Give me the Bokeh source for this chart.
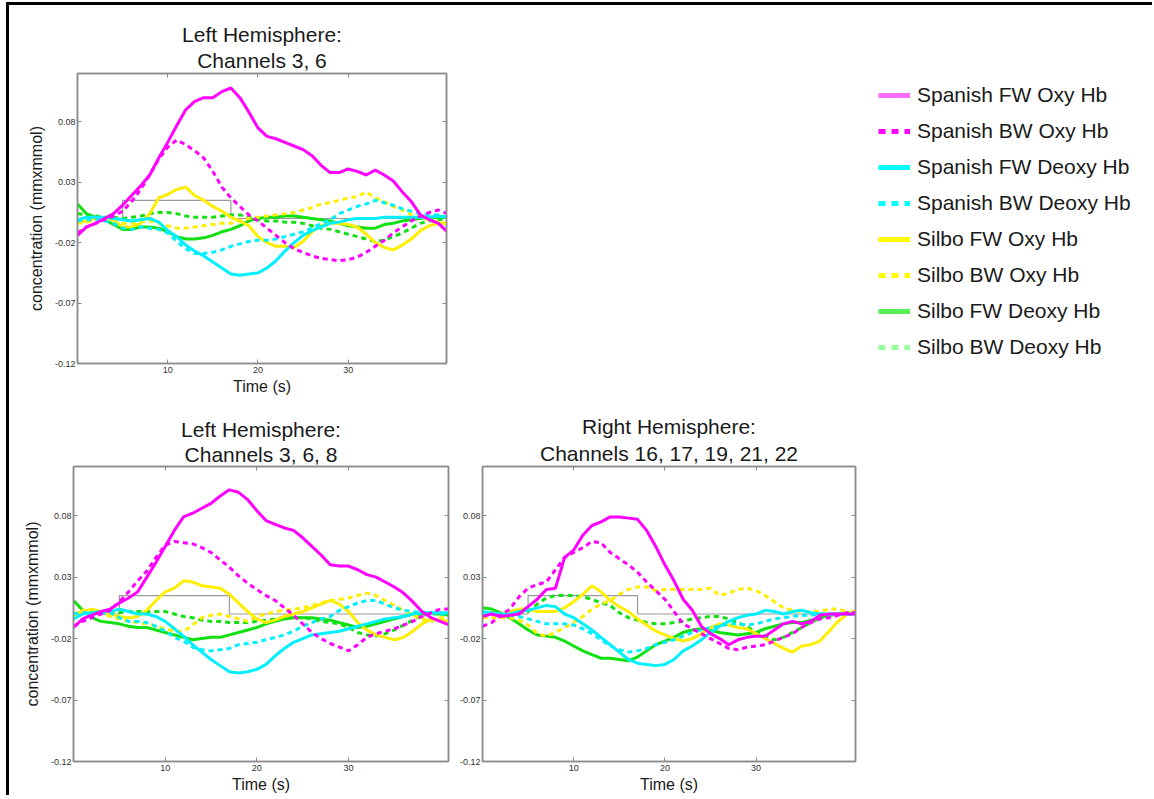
from bokeh.plotting import figure
from bokeh.layouts import row, column
from bokeh.models import (FixedTicker, LinearAxis, Range1d, Title, Legend,
                          LegendItem, PrintfTickFormatter, CustomJSTickFormatter)
from bokeh.embed import file_html
from bokeh.resources import INLINE

# ---------------- data ----------------
time_s = list(range(42))
stim_t = [0, 5, 5, 17, 17, 41]
stim_y = [0, 0, 0.015, 0.015, 0, 0]
x_ticks = [10, 20, 30]
y_ticks = [-0.12, -0.07, -0.02, 0.03, 0.08]

series_labels = ["Spanish FW Oxy Hb", "Spanish BW Oxy Hb", "Spanish FW Deoxy Hb",
                 "Spanish BW Deoxy Hb", "Silbo FW Oxy Hb", "Silbo BW Oxy Hb",
                 "Silbo FW Deoxy Hb", "Silbo BW Deoxy Hb"]

panel_titles = [("Left Hemisphere:", "Channels 3, 6"),
                ("Left Hemisphere:", "Channels 3, 6, 8"),
                ("Right Hemisphere:", "Channels 16, 17, 19, 21, 22")]

# Panel 1: Left Hemisphere, channels 3, 6
p1_sp_fw_oxy = [-0.014, -0.007, -0.004, 0.000, 0.004, 0.011, 0.019, 0.027, 0.036, 0.050, 0.063, 0.077, 0.090, 0.097, 0.100, 0.100, 0.105, 0.108, 0.100, 0.088, 0.075, 0.068, 0.066, 0.063, 0.060, 0.057, 0.052, 0.044, 0.038, 0.038, 0.041, 0.039, 0.036, 0.040, 0.036, 0.031, 0.022, 0.014, 0.003, -0.001, -0.004, -0.011]
p1_sp_bw_oxy = [-0.012, -0.007, -0.004, -0.001, 0.002, 0.006, 0.014, 0.024, 0.036, 0.049, 0.059, 0.065, 0.061, 0.056, 0.050, 0.039, 0.026, 0.017, 0.010, 0.003, -0.002, -0.008, -0.014, -0.020, -0.025, -0.028, -0.031, -0.033, -0.034, -0.035, -0.034, -0.032, -0.028, -0.023, -0.018, -0.012, -0.007, -0.002, 0.002, 0.005, 0.007, 0.004]
p1_sp_fw_deoxy = [-0.001, 0.001, 0.001, 0.001, 0.000, -0.001, -0.002, -0.001, 0.000, -0.003, -0.010, -0.015, -0.022, -0.027, -0.031, -0.036, -0.041, -0.046, -0.047, -0.046, -0.045, -0.041, -0.035, -0.027, -0.020, -0.014, -0.010, -0.007, -0.004, -0.003, -0.001, 0.000, 0.000, 0.000, 0.001, 0.001, 0.001, 0.001, 0.001, 0.001, 0.002, 0.001]
p1_sp_bw_deoxy = [-0.002, -0.001, -0.001, -0.002, -0.004, -0.008, -0.009, -0.007, -0.008, -0.009, -0.012, -0.019, -0.025, -0.029, -0.029, -0.028, -0.026, -0.023, -0.021, -0.019, -0.018, -0.018, -0.017, -0.015, -0.013, -0.011, -0.008, -0.004, -0.001, 0.004, 0.007, 0.010, 0.012, 0.015, 0.013, 0.011, 0.008, 0.006, 0.004, 0.003, 0.003, 0.001]
p1_si_fw_oxy = [-0.003, -0.002, 0.000, 0.000, -0.001, -0.007, -0.007, -0.004, 0.004, 0.017, 0.020, 0.024, 0.026, 0.019, 0.015, 0.010, 0.006, 0.001, -0.002, -0.006, -0.015, -0.020, -0.023, -0.023, -0.024, -0.019, -0.011, -0.006, -0.004, -0.004, -0.005, -0.007, -0.013, -0.020, -0.024, -0.026, -0.022, -0.017, -0.010, -0.006, -0.004, -0.004]
p1_si_bw_oxy = [-0.004, -0.003, -0.002, -0.001, -0.003, -0.004, -0.004, -0.003, -0.002, -0.004, -0.006, -0.008, -0.008, -0.007, -0.006, -0.005, -0.004, -0.004, -0.002, 0.000, 0.001, 0.002, 0.003, 0.004, 0.005, 0.007, 0.009, 0.012, 0.013, 0.015, 0.017, 0.018, 0.022, 0.017, 0.014, 0.010, 0.007, 0.003, 0.001, -0.001, -0.003, -0.004]
p1_si_fw_deoxy = [0.012, 0.004, 0.001, -0.001, -0.005, -0.009, -0.009, -0.007, -0.007, -0.008, -0.011, -0.015, -0.017, -0.017, -0.016, -0.014, -0.011, -0.009, -0.006, -0.002, 0.000, 0.001, 0.001, 0.002, 0.002, 0.001, 0.000, -0.001, -0.002, -0.004, -0.006, -0.007, -0.008, -0.008, -0.005, -0.004, -0.002, -0.001, 0.000, 0.001, 0.001, 0.001]
p1_si_bw_deoxy = [0.004, 0.003, 0.002, 0.001, 0.001, 0.000, 0.001, 0.002, 0.004, 0.005, 0.005, 0.004, 0.002, 0.001, 0.001, 0.001, 0.002, 0.003, 0.003, 0.001, -0.001, -0.002, -0.002, -0.003, -0.003, -0.004, -0.006, -0.008, -0.009, -0.011, -0.013, -0.015, -0.017, -0.019, -0.018, -0.015, -0.012, -0.008, -0.004, -0.002, -0.001, 0.000]

# Panel 2: Left Hemisphere, channels 3, 6, 8
p2_sp_fw_oxy = [-0.011, -0.004, -0.001, 0.002, 0.004, 0.009, 0.013, 0.018, 0.030, 0.042, 0.055, 0.068, 0.079, 0.082, 0.086, 0.090, 0.096, 0.101, 0.099, 0.093, 0.084, 0.076, 0.073, 0.070, 0.068, 0.062, 0.055, 0.048, 0.040, 0.039, 0.039, 0.036, 0.032, 0.030, 0.026, 0.022, 0.017, 0.010, 0.002, -0.003, -0.006, -0.009]
p2_sp_bw_oxy = [-0.010, -0.006, -0.003, 0.000, 0.003, 0.010, 0.018, 0.027, 0.035, 0.046, 0.056, 0.059, 0.058, 0.057, 0.054, 0.050, 0.044, 0.038, 0.031, 0.025, 0.020, 0.015, 0.011, 0.005, -0.001, -0.008, -0.015, -0.020, -0.024, -0.027, -0.030, -0.025, -0.019, -0.016, -0.014, -0.012, -0.009, -0.006, -0.002, 0.001, 0.004, 0.004]
p2_sp_fw_deoxy = [-0.004, 0.000, 0.001, 0.002, 0.002, 0.004, 0.002, 0.000, 0.000, -0.002, -0.006, -0.012, -0.018, -0.025, -0.031, -0.037, -0.042, -0.047, -0.048, -0.047, -0.045, -0.041, -0.034, -0.028, -0.023, -0.020, -0.017, -0.016, -0.015, -0.014, -0.012, -0.010, -0.008, -0.006, -0.004, -0.003, -0.002, 0.000, 0.001, 0.001, 0.001, 0.001]
p2_sp_bw_deoxy = [0.000, 0.001, 0.001, 0.001, 0.001, -0.003, -0.006, -0.006, -0.007, -0.010, -0.014, -0.019, -0.022, -0.027, -0.029, -0.030, -0.029, -0.028, -0.025, -0.024, -0.023, -0.021, -0.019, -0.017, -0.014, -0.010, -0.007, -0.004, -0.002, 0.003, 0.006, 0.009, 0.011, 0.011, 0.008, 0.005, 0.003, 0.002, 0.001, 0.001, 0.000, 0.000]
p2_si_fw_oxy = [0.000, 0.002, 0.004, 0.002, 0.000, -0.002, -0.003, -0.002, 0.003, 0.011, 0.018, 0.021, 0.027, 0.026, 0.023, 0.022, 0.021, 0.016, 0.009, 0.002, -0.004, -0.007, -0.005, -0.002, 0.000, 0.002, 0.005, 0.008, 0.011, 0.008, 0.002, -0.007, -0.013, -0.017, -0.019, -0.021, -0.019, -0.014, -0.008, -0.004, -0.005, -0.006]
p2_si_bw_oxy = [-0.002, 0.003, 0.003, 0.001, -0.002, -0.004, -0.006, -0.007, -0.008, -0.010, -0.012, -0.014, -0.014, -0.009, -0.003, -0.001, 0.000, -0.002, -0.004, -0.006, -0.002, 0.000, 0.002, 0.003, 0.004, 0.005, 0.007, 0.009, 0.011, 0.012, 0.013, 0.015, 0.017, 0.015, 0.011, 0.007, 0.003, -0.001, -0.004, -0.006, -0.003, -0.002]
p2_si_fw_deoxy = [0.011, 0.003, -0.003, -0.006, -0.007, -0.008, -0.010, -0.011, -0.011, -0.013, -0.015, -0.017, -0.019, -0.021, -0.020, -0.019, -0.019, -0.017, -0.015, -0.013, -0.011, -0.008, -0.006, -0.004, -0.003, -0.003, -0.003, -0.004, -0.005, -0.007, -0.009, -0.011, -0.010, -0.008, -0.006, -0.004, -0.002, 0.000, 0.000, 0.001, 0.000, -0.001]
p2_si_bw_deoxy = [0.000, 0.001, 0.001, 0.001, 0.001, 0.001, 0.002, 0.002, 0.002, 0.002, 0.002, 0.000, -0.002, -0.003, -0.005, -0.006, -0.006, -0.007, -0.007, -0.007, -0.006, -0.005, -0.004, -0.003, -0.003, -0.003, -0.004, -0.006, -0.007, -0.008, -0.011, -0.015, -0.017, -0.018, -0.016, -0.013, -0.009, -0.005, -0.001, 0.000, 0.000, 0.000]

# Panel 3: Right Hemisphere, channels 16, 17, 19, 21, 22
p3_sp_fw_oxy = [-0.002, 0.000, -0.002, -0.001, 0.000, 0.006, 0.012, 0.020, 0.021, 0.046, 0.052, 0.064, 0.072, 0.075, 0.079, 0.079, 0.078, 0.077, 0.068, 0.055, 0.040, 0.027, 0.012, 0.003, -0.010, -0.016, -0.020, -0.025, -0.021, -0.019, -0.018, -0.018, -0.013, -0.008, -0.006, -0.008, -0.006, -0.001, 0.000, 0.000, 0.000, 0.000]
p3_sp_bw_oxy = [-0.010, -0.007, -0.001, 0.004, 0.014, 0.021, 0.024, 0.026, 0.036, 0.046, 0.050, 0.054, 0.059, 0.058, 0.050, 0.045, 0.040, 0.034, 0.026, 0.019, 0.012, 0.002, -0.008, -0.012, -0.016, -0.020, -0.024, -0.028, -0.029, -0.027, -0.026, -0.025, -0.022, -0.019, -0.016, -0.011, -0.007, -0.004, -0.003, -0.001, 0.001, 0.001]
p3_sp_fw_deoxy = [0.002, 0.001, 0.000, 0.000, 0.002, 0.003, 0.005, 0.007, 0.006, 0.000, -0.003, -0.008, -0.013, -0.019, -0.025, -0.031, -0.037, -0.040, -0.041, -0.042, -0.041, -0.037, -0.030, -0.026, -0.021, -0.015, -0.010, -0.006, -0.003, -0.001, 0.000, 0.003, 0.002, 0.000, 0.002, 0.003, 0.001, 0.000, 0.000, 0.000, 0.000, 0.000]
p3_sp_bw_deoxy = [0.001, 0.000, 0.000, -0.001, -0.002, -0.004, -0.006, -0.008, -0.008, -0.008, -0.009, -0.012, -0.016, -0.021, -0.026, -0.029, -0.031, -0.030, -0.028, -0.025, -0.023, -0.021, -0.018, -0.015, -0.013, -0.011, -0.010, -0.008, -0.008, -0.009, -0.008, -0.006, -0.004, -0.003, -0.002, -0.001, -0.001, 0.000, 0.000, 0.000, 0.000, 0.000]
p3_si_fw_oxy = [0.001, 0.001, 0.000, 0.002, 0.004, 0.004, 0.002, 0.002, 0.002, 0.005, 0.010, 0.016, 0.023, 0.018, 0.011, 0.006, 0.002, -0.004, -0.009, -0.014, -0.017, -0.020, -0.022, -0.020, -0.016, -0.011, -0.008, -0.009, -0.011, -0.012, -0.016, -0.020, -0.024, -0.028, -0.031, -0.026, -0.025, -0.022, -0.014, -0.006, 0.000, 0.003]
p3_si_bw_oxy = [-0.003, -0.003, -0.003, -0.003, -0.005, -0.009, -0.016, -0.018, -0.015, -0.011, -0.007, -0.002, 0.004, 0.008, 0.011, 0.016, 0.020, 0.022, 0.022, 0.019, 0.020, 0.020, 0.020, 0.020, 0.020, 0.021, 0.015, 0.017, 0.020, 0.021, 0.019, 0.015, 0.010, 0.005, 0.003, 0.002, 0.002, 0.002, 0.004, 0.004, 0.002, 0.000]
p3_si_fw_deoxy = [0.005, 0.004, 0.001, -0.003, -0.008, -0.013, -0.017, -0.018, -0.019, -0.022, -0.026, -0.030, -0.033, -0.036, -0.036, -0.037, -0.038, -0.035, -0.030, -0.025, -0.022, -0.019, -0.015, -0.013, -0.012, -0.013, -0.015, -0.016, -0.017, -0.016, -0.015, -0.012, -0.010, -0.008, -0.007, -0.007, -0.005, -0.003, -0.001, 0.000, 0.001, 0.001]
p3_si_bw_deoxy = [0.000, 0.000, 0.000, 0.000, 0.001, 0.002, 0.008, 0.013, 0.015, 0.015, 0.015, 0.014, 0.012, 0.009, 0.007, 0.001, -0.003, -0.005, -0.007, -0.008, -0.008, -0.007, -0.006, -0.004, -0.003, -0.002, -0.002, -0.004, -0.007, -0.010, -0.015, -0.018, -0.021, -0.019, -0.015, -0.011, -0.007, -0.003, -0.001, 0.000, 0.000, 0.000]

panel_data = [
    [p1_sp_fw_oxy, p1_sp_bw_oxy, p1_sp_fw_deoxy, p1_sp_bw_deoxy,
     p1_si_fw_oxy, p1_si_bw_oxy, p1_si_fw_deoxy, p1_si_bw_deoxy],
    [p2_sp_fw_oxy, p2_sp_bw_oxy, p2_sp_fw_deoxy, p2_sp_bw_deoxy,
     p2_si_fw_oxy, p2_si_bw_oxy, p2_si_fw_deoxy, p2_si_bw_deoxy],
    [p3_sp_fw_oxy, p3_sp_bw_oxy, p3_sp_fw_deoxy, p3_sp_bw_deoxy,
     p3_si_fw_oxy, p3_si_bw_oxy, p3_si_fw_deoxy, p3_si_bw_deoxy],
]

# ---------------- styles ----------------
line_colors = ["#ff00ff", "#ff00ff", "#00f0ff", "#00f0ff",
               "#ffee00", "#ffee00", "#11e011", "#11e011"]
legend_colors = ["#ff6cff", "#ff00ff", "#00ffff", "#00ffff",
                 "#ffff00", "#ffff00", "#55ee55", "#99ff99"]
dashes = ["solid", "5 4", "solid", "5 4", "solid", "5 4", "solid", "5 4"]
draw_order = [7, 6, 5, 4, 3, 2, 1, 0]

FONT = "Liberation Sans"
AXC = "#8c8c8c"
TXT = "#1a1a1a"
blank = CustomJSTickFormatter(code="return ''")


def make_panel(idx, fw, fh, bl, br, bt, bb, ylabel, sub_standoff):
    p = figure(frame_width=fw, frame_height=fh,
               min_border_left=bl, min_border_right=br,
               min_border_top=bt, min_border_bottom=bb,
               x_range=Range1d(0, 40.9), y_range=Range1d(-0.12, 0.12),
               toolbar_location=None, output_backend="svg", title=None,
               background_fill_color="white", border_fill_color="white")
    p.xgrid.visible = False
    p.ygrid.visible = False
    p.outline_line_color = AXC
    p.outline_line_width = 1.5

    for ax in (p.xaxis[0], p.yaxis[0]):
        ax.axis_line_color = AXC
        ax.axis_line_width = 1.5
        ax.major_tick_line_color = AXC
        ax.major_tick_in = 4
        ax.major_tick_out = 0
        ax.minor_tick_line_color = None
        ax.major_label_text_font = FONT
        ax.major_label_text_font_size = "9px"
        ax.major_label_text_color = "#333333"
        ax.axis_label_text_font = FONT
        ax.axis_label_text_font_style = "normal"
        ax.axis_label_text_color = TXT
    p.xaxis.ticker = FixedTicker(ticks=x_ticks)
    p.yaxis.ticker = FixedTicker(ticks=y_ticks)
    p.yaxis.formatter = PrintfTickFormatter(format="%.2f")
    p.xaxis.major_label_standoff = 3
    p.yaxis.major_label_standoff = 2
    p.xaxis.axis_label = "Time (s)"
    p.xaxis.axis_label_text_font_size = "16px"
    p.xaxis.axis_label_standoff = 2
    if ylabel:
        p.yaxis.axis_label = "concentration (mmxmmol)"
        p.yaxis.axis_label_text_font_size = "16px"
        p.yaxis.axis_label_standoff = 7

    # mirrored ticks on top and right (no labels)
    top = LinearAxis(ticker=FixedTicker(ticks=x_ticks), formatter=blank,
                     axis_line_color=AXC, axis_line_width=1.5,
                     major_tick_line_color=AXC, major_tick_in=4, major_tick_out=0,
                     minor_tick_line_color=None, major_label_standoff=0)
    right = LinearAxis(ticker=FixedTicker(ticks=y_ticks), formatter=blank,
                       axis_line_color=AXC, axis_line_width=1.5,
                       major_tick_line_color=AXC, major_tick_in=4, major_tick_out=0,
                       minor_tick_line_color=None, major_label_standoff=0)
    p.add_layout(top, "above")
    p.add_layout(right, "right")

    l1, l2 = panel_titles[idx]
    p.add_layout(Title(text=l2, align="center", text_font=FONT, text_font_size="21px",
                       text_font_style="normal", text_color=TXT, standoff=sub_standoff), "above")
    p.add_layout(Title(text=l1, align="center", text_font=FONT, text_font_size="21px",
                       text_font_style="normal", text_color=TXT, standoff=0), "above")

    p.line(stim_t, stim_y, line_color="#9a9a9a", line_width=1.2)
    series = panel_data[idx]
    for k in draw_order:
        p.line(time_s, series[k], line_color=line_colors[k], line_width=3,
               line_dash=dashes[k])
    return p


p1 = make_panel(0, 369, 290, 68, 10, 68, 37, True, 3)
p2 = make_panel(1, 375, 295, 64, 8, 66, 34, True, 1)
p3 = make_panel(2, 373, 295, 26, 10, 66, 34, False, 4)

# legend panel (frame aligned with p1's frame)
leg = figure(width=696, height=395, x_axis_type=None, y_axis_type=None,
             x_range=Range1d(0, 1), y_range=Range1d(0, 1),
             min_border_left=412, min_border_top=68, min_border_right=0,
             min_border_bottom=37, toolbar_location=None, output_backend="svg",
             title=None, outline_line_color=None)
leg.xgrid.visible = False
leg.ygrid.visible = False
nan = float("nan")
items = []
for k, lab in enumerate(series_labels):
    r = leg.line(x=[nan], y=[nan], line_color=legend_colors[k], line_width=5,
                 line_dash="solid" if dashes[k] == "solid" else "7 6")
    items.append(LegendItem(label=lab, renderers=[r]))
legend = Legend(items=items, location="top_left", margin=10, padding=0,
                glyph_width=32, glyph_height=24, label_height=24, label_standoff=7,
                spacing=12, border_line_color=None, background_fill_alpha=0,
                label_text_font=FONT, label_text_font_size="21px",
                label_text_color=TXT)
leg.add_layout(legend)

layout = column(row(p1, leg), row(p2, p3),
                styles={"border-top": "3px solid #000", "border-left": "3px solid #000",
                        "margin-left": "6px", "margin-top": "2px"})

open("out.html", "w").write(file_html(layout, INLINE))
